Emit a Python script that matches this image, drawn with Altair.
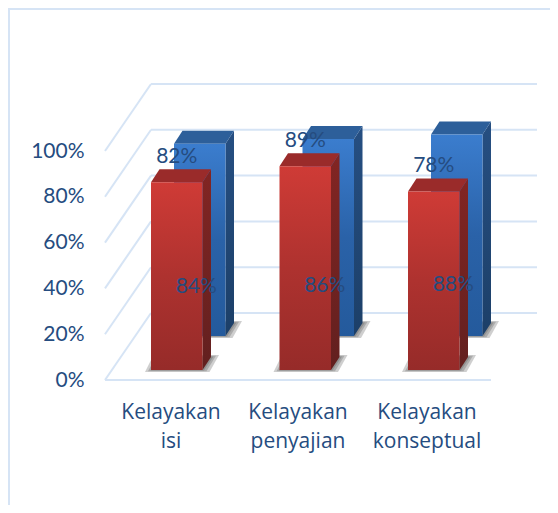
import altair as alt
import pandas as pd

categories = ["Kelayakan\nisi", "Kelayakan\npenyajian", "Kelayakan\nkonseptual"]
red_values = [82, 89, 78]
blue_values = [84, 86, 88]
y_ticks = [0, 20, 40, 60, 80, 100]

# Projection of the 3D scene onto the plane (x in px from the floor corner, y in percent units)
W, H = 542, 497
PX_PER_PCT = 2.29
X_MIN = -97
Y_TOP = 372 / PX_PER_PCT
Y_BOT = (372 - H) / PX_PER_PCT
WALL_DX, WALL_DY = 46, 67 / PX_PER_PCT
FLOOR_RIGHT = 386
BACK_RIGHT = 432
BAR_X = [46, 174.5, 303]
BAR_W = 51.5
BAR_DX, BAR_DY = 8.5, 13 / PX_PER_PCT
RED_SHIFT = (0, 10 / PX_PER_PCT)
BLUE_SHIFT = (23, 44 / PX_PER_PCT)
BORDER = "#D6E4F5"
TEXT = "#254C80"
FONT = "Lato"

xs = alt.Scale(domain=[X_MIN, X_MIN + W], range=[0, W], nice=False, zero=False)
ys = alt.Scale(domain=[Y_BOT, Y_TOP], range=[H, 0], nice=False, zero=False)
y_axis = alt.Axis(
    values=y_ticks, title=None, grid=False, domain=False, ticks=False,
    labelExpr="datum.value + '%'", offset=-76, labelPadding=0,
    labelFont=FONT, labelFontSize=21, labelColor=TEXT)
X = lambda f: alt.X(f, type="quantitative", scale=xs, axis=None)
Y = lambda f: alt.Y(f, type="quantitative", scale=ys, axis=y_axis)
X2 = lambda f: alt.X2(f)
Y2 = lambda f: alt.Y2(f)


def grad(*cols):
    n = len(cols) - 1
    return alt.Gradient(
        gradient="linear", x1=0, x2=0, y1=0, y2=1,
        stops=[alt.GradientStop(color=c, offset=i / n) for i, c in enumerate(cols)],
    )


def series_layers(values, shift, front, side, top):
    sx, sy = shift
    fr, sd, tp, sh = [], [], [], []
    for i, v in enumerate(values):
        xl = BAR_X[i] + sx
        xr = xl + BAR_W
        base, ytop = sy, sy + v
        fr.append(dict(x=xl, x2=xr, y=ytop, y2=base))
        sd += [dict(id=i, x=xr, y=ytop, y2=base),
               dict(id=i, x=xr + BAR_DX, y=ytop + BAR_DY, y2=base + BAR_DY)]
        tp += [dict(id=i, y=ytop, x=xl, x2=xr),
               dict(id=i, y=ytop + BAR_DY, x=xl + BAR_DX, x2=xr + BAR_DX)]
        for k, g in enumerate([7, 4, 1.5]):
            e = g / PX_PER_PCT
            sh += [dict(id=f"{i}-{k}", k=k, y=base - e * 0.3, x=xl - g + 1, x2=xr + g),
                   dict(id=f"{i}-{k}", k=k, y=base + BAR_DY + e * 0.3, x=xl + BAR_DX - g + 1, x2=xr + BAR_DX + g + 1)]
    sh = pd.DataFrame(sh)
    return [
        alt.Chart(sh).mark_area(orient="horizontal", color="#444444", opacity=0.26)
        .encode(y=Y("y"), x=X("x"), x2=X2("x2"), detail="id:N"),
        alt.Chart(pd.DataFrame(sd)).mark_area(color=grad(*side))
        .encode(x=X("x"), y=Y("y"), y2=Y2("y2"), detail="id:N"),
        alt.Chart(pd.DataFrame(tp)).mark_area(orient="horizontal", color=top)
        .encode(y=Y("y"), x=X("x"), x2=X2("x2"), detail="id:N"),
        alt.Chart(pd.DataFrame(fr)).mark_rect(color=grad(*front))
        .encode(x=X("x"), x2=X2("x2"), y=Y("y"), y2=Y2("y2")),
    ]


# Walls
back = pd.DataFrame([dict(x=WALL_DX, x2=BACK_RIGHT, y=t + WALL_DY, y2=t + WALL_DY) for t in y_ticks])
side_wall = pd.DataFrame([dict(x=0, x2=WALL_DX, y=t, y2=t + WALL_DY) for t in y_ticks])
floor = pd.DataFrame([dict(x=0, x2=FLOOR_RIGHT, y=0, y2=0)])
rule = lambda d: alt.Chart(d).mark_rule(color=BORDER, strokeWidth=2).encode(
    x=X("x"), x2=X2("x2"), y=Y("y"), y2=Y2("y2"))

frame_top = alt.Chart(pd.DataFrame({"a": [0]})).mark_rule(color=BORDER, strokeWidth=2).encode(
    x=alt.value(1), x2=alt.value(W), y=alt.value(1))
frame_left = alt.Chart(pd.DataFrame({"a": [0]})).mark_rule(color=BORDER, strokeWidth=2).encode(
    x=alt.value(1), y=alt.value(0), y2=alt.value(H))

# Category labels
cat_x = [66, 193, 322]
cat_df = pd.DataFrame({"x": cat_x, "y": [-14.6] * 3, "t": categories})
cat_text = alt.Chart(cat_df).mark_text(
    font="Open Sans", fontSize=21, color=TEXT, lineBreak="\n", lineHeight=29, baseline="middle", align="center"
).encode(x=X("x"), y=Y("y"), text="t:N")

# Value labels
lab = pd.DataFrame(
    [dict(x=BAR_X[i] + BAR_W / 2, y=RED_SHIFT[1] + v + 25 / PX_PER_PCT, t=f"{v}%") for i, v in enumerate(red_values)]
    + [dict(x=BAR_X[i] + BLUE_SHIFT[0] + BAR_W / 2 - 3.5, y=BLUE_SHIFT[1] + v * 0.255, t=f"{v}%") for i, v in enumerate(blue_values)]
)
val_text = alt.Chart(lab).mark_text(font=FONT, fontSize=21, color=TEXT, baseline="middle", align="center").encode(
    x=X("x"), y=Y("y"), text="t:N")

blue = series_layers(blue_values, BLUE_SHIFT,
                     ["#3B7DCE", "#2A62A8", "#245A9C"], ["#264F82", "#1C3F68"], "#2D5F9A")
red = series_layers(red_values, RED_SHIFT,
                    ["#CF3B36", "#AE322F", "#962B29"], ["#822523", "#62201F"], "#9A2B2A")

chart = alt.layer(
    frame_top, frame_left, rule(back), rule(side_wall), rule(floor),
    *blue, *red, cat_text, val_text,
).properties(
    width=W, height=H, padding=0, autosize=alt.AutoSizeParams(type="none"), background="white",
).configure_view(stroke=None)

chart.save("out.html", embed_options={"renderer": "svg", "actions": False})
